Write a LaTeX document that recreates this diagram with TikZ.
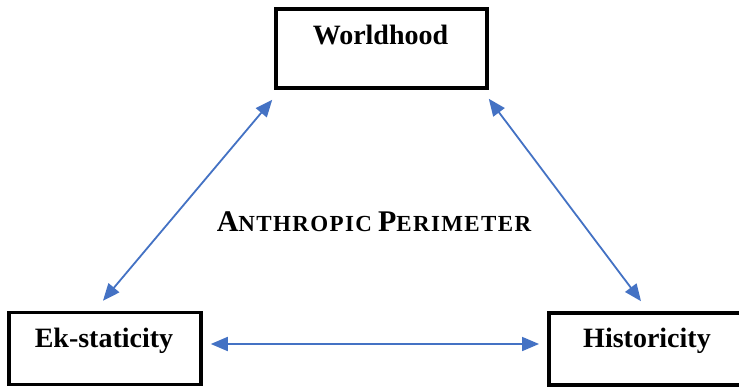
\documentclass[tikz,border=0pt]{standalone}
\usepackage{fontspec}
\setmainfont{Liberation Serif}
\usetikzlibrary{arrows.meta,calc}
\definecolor{arrowblue}{RGB}{68,114,196}
\newcommand{\fakesc}[2]{{\fontsize{30}{30}\selectfont #1}{\fontsize{23}{23}\selectfont\addfontfeature{LetterSpace=6}#2}}
\tikzset{
  box/.style={draw=black, line width=3.6pt, fill=white, inner sep=0pt},
  lbl/.style={font=\bfseries\fontsize{28}{28}\selectfont, inner sep=0pt, anchor=base},
  link/.style={draw=arrowblue, line width=1.8pt, {Triangle[length=17pt,width=14pt]}-{Triangle[length=17pt,width=14pt]}}
}
\begin{document}
\begin{tikzpicture}[x=1pt,y=-1pt]
\useasboundingbox (0,0) rectangle (739,390);
\clip (0,0) rectangle (739,390);
\fill[white] (0,0) rectangle (739,390);
% boxes
\node[box, minimum width=211pt, minimum height=79pt] (w) at (381.5,48.5) {};
\node[box, minimum width=192pt, minimum height=72pt] (ek) at (105,348.5) {};
\node[box, minimum width=220pt, minimum height=72pt, anchor=west] (h) at (547,349) {};
% labels
\node[lbl] (wt) at (380.5,45) {Worldhood};
\node[lbl] (ekt) at (104,347) {Ek-staticity};
\node[lbl] (ht) at (647,347) {Historicity};
\node[font=\bfseries\fontsize{28}{28}\selectfont, inner sep=0pt, anchor=base] (ap) at (374,232) {\fakesc{A}{NTHROPIC}\hspace{6pt}\fakesc{P}{ERIMETER}};
% connectors
\draw[link] ($(ek.north)+(-2,-10)$) -- ($(w.south west)+(-2,10)$);
\draw[link] ($(w.south east)+(0,9)$) -- ($(h.north west)+(94,-10)$);
\draw[link] ($(ek.east)+(8,-4.5)$) -- ($(h.west)+(-8,-5)$);
\end{tikzpicture}
\end{document}
